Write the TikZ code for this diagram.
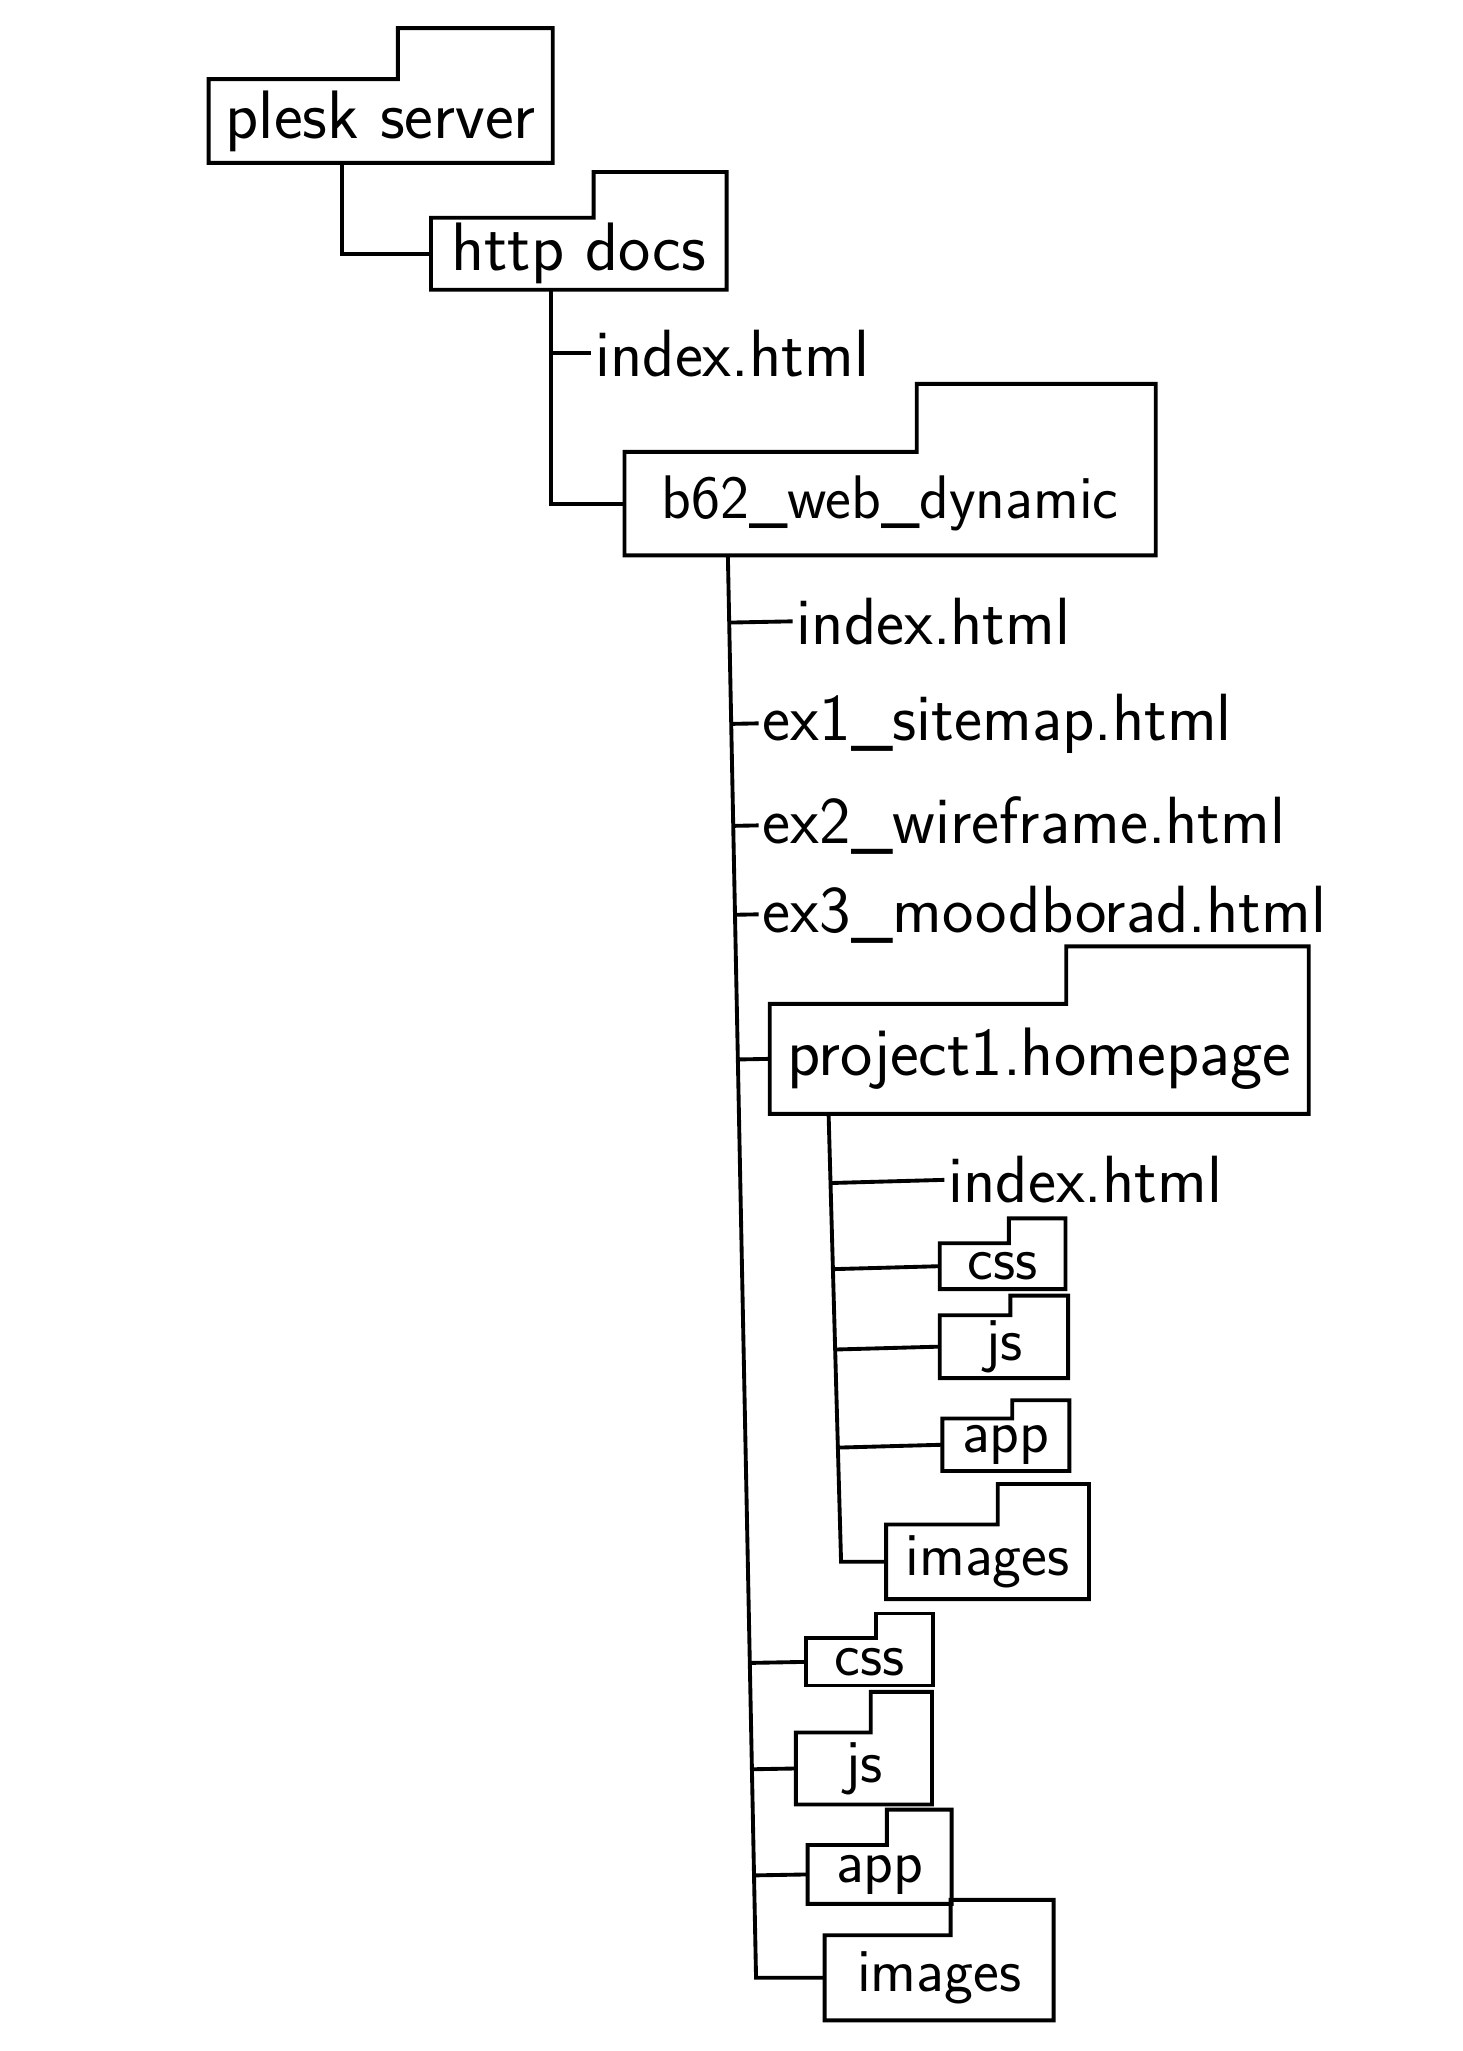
\documentclass[tikz,border=0pt]{standalone}
\usepackage{tikz}
\usetikzlibrary{calc}

\newlength{\dotpx}
\setlength{\dotpx}{0.013077cm}
% folder outline round a node: tab starts at 55% of the top edge, #2 high
\newcommand{\folderline}[2]{\draw[wire] (#1.south west) -- (#1.north west) -- ($(#1.north west)!0.55!(#1.north east)$) -- ++(0,-#2) -| (#1.south east) -- cycle;}

\begin{document}
\begin{tikzpicture}[
    x=\dotpx, y=-\dotpx,
    wire/.style={line width=1.1pt, line join=miter},
    folder/.style={inner sep=0pt, font=\sffamily\fontsize{17.5}{21}\selectfont},
    bigfolder/.style={folder, font=\sffamily\fontsize{19.5}{23}\selectfont},
    leaf/.style={anchor=west, inner sep=1pt, font=\sffamily\fontsize{19}{23}\selectfont}
]
\fill[white] (0,0) rectangle (1118,1568);
\useasboundingbox (0,0) rectangle (1118,1568);

% Server and web root
\node[bigfolder, minimum width=262\dotpx, minimum height=63\dotpx] (plesk) at (291,92.5) {plesk server};
\folderline{plesk}{39}
\node[bigfolder, minimum width=225\dotpx, minimum height=54\dotpx] (http) at (442.5,194) {http docs};
\folderline{http}{35}
\node[leaf] (idx1) at (452,270) {index.html};
\node[folder, minimum width=405\dotpx, minimum height=78\dotpx] (b62) at (680.5,385) {b62\_web\_dynamic};
\folderline{b62}{52}

% Course folder
\node[leaf] (idx2) at (606,475) {index.html};
\node[leaf] (ex1) at (580,553) {ex1\_sitemap.html};
\node[leaf] (ex2) at (580,631) {ex2\_wireframe.html};
\node[leaf] (ex3) at (580,699) {ex3\_moodborad.html};
\node[bigfolder, minimum width=411\dotpx, minimum height=83\dotpx] (proj) at (794.5,809.5) {project1.homepage};
\folderline{proj}{44}

% Project folder
\node[leaf] (idx3) at (722,902) {index.html};
\node[folder, minimum width=95\dotpx, minimum height=34\dotpx] (pcss) at (766.5,968) {css};
\folderline{pcss}{19}
\node[folder, minimum width=97\dotpx, minimum height=47\dotpx] (pjs) at (767.5,1029.5) {js};
\folderline{pjs}{15}
\node[folder, minimum width=96\dotpx, minimum height=39\dotpx] (papp) at (769,1104.5) {app};
\folderline{papp}{14}
\node[folder, minimum width=154\dotpx, minimum height=56\dotpx] (pimg) at (755,1194) {images};
\folderline{pimg}{31}

% Assets of the course folder
\node[folder, minimum width=96\dotpx, minimum height=35\dotpx] (css) at (665,1270.5) {css};
\folderline{css}{19}
\node[folder, minimum width=103\dotpx, minimum height=54\dotpx] (js) at (660.5,1352) {js};
\folderline{js}{31}
\node[folder, minimum width=109\dotpx, minimum height=44\dotpx] (app) at (672.5,1433) {app};
\folderline{app}{27}
\node[folder, minimum width=174\dotpx, minimum height=64\dotpx] (img) at (718,1512) {images};
\folderline{img}{27}

% Tree lines
\draw[wire] (plesk.south west) ++(102,0) |- (http.west);
\draw[wire] (http.south west) ++(92,0) coordinate (httptop) |- (b62.west);
\draw[wire] (httptop |- idx1.west) -- (idx1.west);

\path (b62.south west) ++(79,0) coordinate (b62top);
\coordinate (b62bot) at (578,1512);
\draw[wire] (b62top) -- (b62bot) -- (img.west);
\foreach \n in {idx2,ex1,ex2,ex3,proj,css,js,app}
    \draw[wire] ($(b62top)!(\n.west)!(b62bot)$) -- (\n.west);

\path (proj.south west) ++(45,0) coordinate (projtop);
\coordinate (projbot) at (643,1194);
\draw[wire] (projtop) -- (projbot) -- (pimg.west);
\foreach \n in {idx3,pcss,pjs,papp}
    \draw[wire] ($(projtop)!(\n.west)!(projbot)$) -- (\n.west);

\end{tikzpicture}
\end{document}
